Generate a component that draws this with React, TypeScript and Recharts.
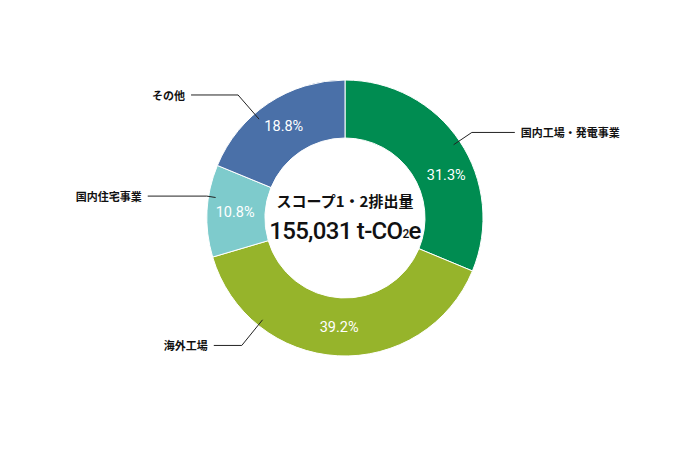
import { PieChart, Pie, Cell } from 'recharts';

const categories = ['国内工場・発電事業', '海外工場', '国内住宅事業', 'その他'];
const shares = [31.3, 39.2, 10.8, 18.8];
const colors = ['#008c51', '#96b42b', '#7ecbcc', '#4a70a8'];
const centerTitle = 'スコープ1・2排出量';
const centerValue = '155,031';
const centerUnit = 't-CO';

const data = categories.map((name, i) => ({ name, value: shares[i] }));

const RAD = Math.PI / 180;
const FONT = '"Noto Sans CJK JP", "Noto Sans", sans-serif';

// leader line layout per slice: angle (deg), elbow radius, horizontal run
const leaders = [
  { angle: 34, elbow: 153, run: 43 },
  { angle: -129, elbow: 164, run: 28 },
  { angle: 171, elbow: 140, run: 59 },
  { angle: 131, elbow: 163, run: 47 },
];
// the first percentage sits lower than its mid angle in the original
const pctAngle: Record<number, number> = { 0: 23 };

function CenterText({ cx, cy }: { cx: number; cy: number }) {
  return (
    <g>
      <text x={cx} y={cy - 18} textAnchor="middle" dominantBaseline="central" fontSize={15} fontWeight="bold" fill="#111" fontFamily={FONT}>
        {centerTitle}
      </text>
      <text
        x={cx}
        y={cy + 13}
        textAnchor="middle"
        dominantBaseline="central"
        fontSize={24}
        fontWeight={500}
        letterSpacing={-0.7}
        fill="#111"
        fontFamily="Roboto, sans-serif"
      >
        {`${centerValue} ${centerUnit}`}
        <tspan fontSize={12} dy={3}>2</tspan>
        <tspan dy={-3}>e</tspan>
      </text>
    </g>
  );
}

function renderLabel(props: any) {
  const { cx, cy, midAngle, index, outerRadius } = props;
  const a = (pctAngle[index] ?? midAngle) * RAD;
  const r = 110;
  const px = cx + r * Math.cos(a);
  const py = cy - r * Math.sin(a);
  const l = leaders[index];
  const la = l.angle * RAD;
  const sx = cx + (outerRadius - 7) * Math.cos(la);
  const sy = cy - (outerRadius - 7) * Math.sin(la);
  const ex = cx + l.elbow * Math.cos(la);
  const ey = cy - l.elbow * Math.sin(la);
  const right = Math.cos(la) > 0;
  const hx = right ? ex + l.run : ex - l.run;
  return (
    <g key={`lbl-${index}`}>
      {index === 0 && <CenterText cx={cx} cy={cy} />}
      <text x={px} y={py} fill="#fff" fontSize={14.5} fontFamily="Roboto, sans-serif" textAnchor="middle" dominantBaseline="central">
        {`${shares[index]}%`}
      </text>
      <polyline points={`${sx},${sy} ${ex},${ey} ${hx},${ey}`} fill="none" stroke="#222" strokeWidth={1} />
      <text
        x={right ? hx + 6 : hx - 6}
        y={ey}
        fill="#111"
        fontSize={11}
        fontWeight="bold"
        fontFamily={FONT}
        textAnchor={right ? 'start' : 'end'}
        dominantBaseline="central"
      >
        {categories[index]}
      </text>
    </g>
  );
}

export default function App() {
  return (
    <div style={{ width: 690, height: 450, background: '#fff' }}>
      <style>{'body{margin:0}'}</style>
      <PieChart width={690} height={450} margin={{ top: 0, right: 0, bottom: 0, left: 0 }}>
        <Pie
          data={data}
          dataKey="value"
          nameKey="name"
          cx={345}
          cy={218}
          innerRadius={80}
          outerRadius={138}
          startAngle={90}
          endAngle={-270}
          stroke="#fff"
          strokeWidth={1}
          label={renderLabel}
          labelLine={false}
          isAnimationActive={false}
        >
          {data.map((entry, index) => (
            <Cell key={`cell-${index}`} fill={colors[index]} />
          ))}
        </Pie>
      </PieChart>
    </div>
  );
}
